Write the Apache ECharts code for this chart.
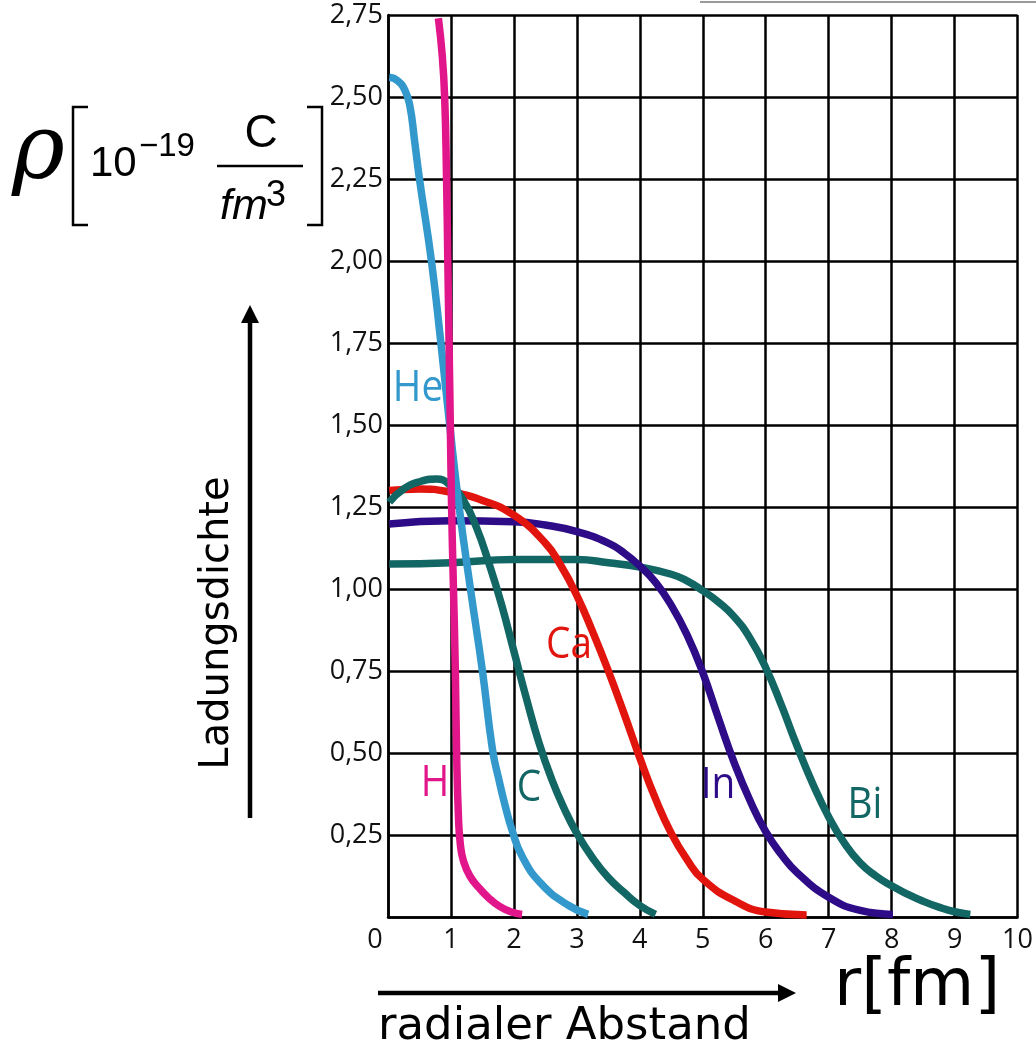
<!DOCTYPE html>
<html lang="de">
<head>
<meta charset="UTF-8">
<title>Ladungsdichte</title>
<script src="https://cdn.jsdelivr.net/npm/echarts@6/dist/echarts.min.js"></script>
<style>
    html, body { margin: 0; padding: 0; background: #ffffff; }
    #densityChart { width: 1036px; height: 1049px; }
</style>
</head>
<body>
<div id="densityChart"></div>
<script>
// 数据：r [fm] 与电荷密度 rho [10^-19 C/fm^3]
const hRadius = [0.80, 0.86, 0.90, 0.93, 0.95, 0.97, 0.99, 1.01, 1.04, 1.07, 1.09, 1.12, 1.15, 1.20, 1.30, 1.45, 1.60, 1.76, 1.95, 2.13];
const hDensity = [2.74, 2.63, 2.50, 2.25, 2.00, 1.75, 1.50, 1.25, 1.00, 0.75, 0.50, 0.30, 0.22, 0.17, 0.125, 0.088, 0.058, 0.034, 0.016, 0.008];

const heRadius = [0.02, 0.15, 0.27, 0.35, 0.42, 0.50, 0.69, 0.84, 0.98, 1.13, 1.31, 1.50, 1.66, 1.76, 1.86, 1.97, 2.13, 2.44, 2.87, 3.18];
const heDensity = [2.56, 2.55, 2.52, 2.47, 2.37, 2.25, 2.00, 1.75, 1.50, 1.25, 1.00, 0.75, 0.51, 0.42, 0.34, 0.265, 0.185, 0.10, 0.035, 0.008];

const cRadius = [0.02, 0.25, 0.50, 0.77, 1.00, 1.20, 1.40, 1.60, 1.80, 2.00, 2.20, 2.40, 2.60, 2.80, 3.00, 3.25, 3.50, 3.75, 4.00, 4.25];
const cDensity = [1.265, 1.305, 1.327, 1.335, 1.315, 1.27, 1.19, 1.08, 0.955, 0.81, 0.665, 0.53, 0.42, 0.33, 0.255, 0.18, 0.12, 0.075, 0.035, 0.008];

const caRadius = [0.02, 0.50, 1.00, 1.50, 2.00, 2.50, 2.75, 3.00, 3.25, 3.50, 3.75, 4.00, 4.25, 4.50, 4.75, 5.00, 5.50, 6.00, 6.65];
const caDensity = [1.30, 1.305, 1.295, 1.27, 1.225, 1.14, 1.07, 0.98, 0.87, 0.75, 0.62, 0.485, 0.36, 0.255, 0.175, 0.115, 0.05, 0.015, 0.006];

const inRadius = [0.02, 1.00, 2.00, 2.50, 3.00, 3.50, 3.75, 4.00, 4.25, 4.50, 4.75, 5.00, 5.25, 5.50, 5.75, 6.00, 6.25, 6.50, 7.00, 7.50, 8.02];
const inDensity = [1.198, 1.208, 1.205, 1.195, 1.175, 1.14, 1.11, 1.07, 1.02, 0.95, 0.86, 0.745, 0.605, 0.47, 0.355, 0.26, 0.19, 0.135, 0.06, 0.02, 0.008];

const biRadius = [0.02, 1.00, 2.00, 3.00, 3.50, 4.00, 4.50, 4.75, 5.00, 5.25, 5.50, 5.75, 6.00, 6.25, 6.50, 6.75, 7.00, 7.25, 7.50, 7.75, 8.00, 8.25, 8.50, 8.75, 9.00, 9.25];
const biDensity = [1.076, 1.08, 1.09, 1.09, 1.08, 1.067, 1.045, 1.025, 0.995, 0.96, 0.915, 0.85, 0.76, 0.645, 0.52, 0.405, 0.305, 0.225, 0.165, 0.125, 0.095, 0.07, 0.048, 0.03, 0.016, 0.008];

const curveNames = ['Bi', 'In', 'Ca', 'C', 'He', 'H'];
const xTicks = [0, 1, 2, 3, 4, 5, 6, 7, 8, 9, 10];
const yTicks = [0, 0.25, 0.5, 0.75, 1, 1.25, 1.5, 1.75, 2, 2.25, 2.5, 2.75];

const TICK_FONT = '"Open Sans", "DejaVu Sans", sans-serif';
const HAND_FONT = '"DejaVu Sans", sans-serif';

document.addEventListener('DOMContentLoaded', function () {
    initializeChart();
});

// 初始化图表
function initializeChart() {
    const chartDom = document.getElementById('densityChart');
    if (!chartDom) {
        console.error('Error: Unable to find chart container.');
        return;
    }
    const densityChart = echarts.init(chartDom, null, { renderer: 'canvas' });
    densityChart.setOption(getChartOptions());
    window.densityChart = densityChart;
}

// 组合曲线数据
function buildSeries() {
    const curves = {
        H: { r: hRadius, rho: hDensity, color: '#e2168b' },
        He: { r: heRadius, rho: heDensity, color: '#3399cc' },
        C: { r: cRadius, rho: cDensity, color: '#126664' },
        Ca: { r: caRadius, rho: caDensity, color: '#e2140e' },
        In: { r: inRadius, rho: inDensity, color: '#2f0c87' },
        Bi: { r: biRadius, rho: biDensity, color: '#126664' }
    };
    return curveNames.map(function (name, idx) {
        const c = curves[name];
        return {
            name: name,
            type: 'line',
            data: c.r.map(function (r, i) { return [r, c.rho[i]]; }),
            smooth: 0.5,
            showSymbol: false,
            symbol: 'none',
            silent: true,
            clip: false,
            z: 3 + idx,
            lineStyle: { color: c.color, width: 7.5 }
        };
    });
}

// 曲线名称标签
function buildCurveLabels() {
    const labels = [
        { text: 'He', x: 418, y: 389, color: '#3399cc' },
        { text: 'H', x: 435, y: 784, color: '#e2168b' },
        { text: 'C', x: 529, y: 789, color: '#126664' },
        { text: 'Ca', x: 569, y: 646, color: '#e2140e' },
        { text: 'In', x: 718, y: 786, color: '#2f0c87' },
        { text: 'Bi', x: 865, y: 806, color: '#126664' }
    ];
    return labels.map(function (l) {
        return {
            type: 'text', x: l.x, y: l.y, z: 20, scaleX: 0.9,
            style: {
                text: l.text, fill: l.color, font: '43px ' + TICK_FONT,
                align: 'center', verticalAlign: 'middle'
            }
        };
    });
}

// 轴标题、箭头和单位
function buildAnnotations() {
    const black = '#000000';
    const arial = '"Liberation Sans", Arial, sans-serif';
    return [
        // 顶部残留线
        { type: 'line', shape: { x1: 700, y1: 2, x2: 1036, y2: 2 }, style: { stroke: '#9a9a9a', lineWidth: 2 } },
        // rho 单位
        { type: 'text', x: 12, y: 154, style: { text: 'ρ', font: 'italic 90px "DejaVu Serif", serif', fill: black, align: 'left', verticalAlign: 'middle' } },
        { type: 'polyline', shape: { points: [[88, 107], [73, 107], [73, 225], [88, 225]] }, style: { stroke: black, lineWidth: 2.5, fill: null } },
        { type: 'polyline', shape: { points: [[307, 107], [322, 107], [322, 225], [307, 225]] }, style: { stroke: black, lineWidth: 2.5, fill: null } },
        { type: 'text', x: 90, y: 164, style: { text: '10', font: '42px ' + arial, fill: black, align: 'left', verticalAlign: 'middle' } },
        { type: 'text', x: 139, y: 147, style: { text: '\u221219', font: '33px ' + arial, fill: black, align: 'left', verticalAlign: 'middle' } },
        { type: 'text', x: 261, y: 134, style: { text: 'C', font: '46px ' + arial, fill: black, align: 'center', verticalAlign: 'middle' } },
        { type: 'line', shape: { x1: 217, y1: 166, x2: 303, y2: 166 }, style: { stroke: black, lineWidth: 2.5 } },
        { type: 'text', x: 220, y: 207, style: { text: 'fm', font: 'italic 43px ' + arial, fill: black, align: 'left', verticalAlign: 'middle' } },
        { type: 'text', x: 266, y: 196, style: { text: '3', font: '36px ' + arial, fill: black, align: 'left', verticalAlign: 'middle' } },
        // 纵向箭头
        { type: 'line', shape: { x1: 250, y1: 818, x2: 250, y2: 318 }, style: { stroke: black, lineWidth: 4.5 } },
        { type: 'polygon', shape: { points: [[241, 323], [259, 323], [250, 305]] }, style: { fill: black } },
        { type: 'text', x: 218, y: 623, rotation: Math.PI / 2, style: { text: 'Ladungsdichte', font: '40px ' + HAND_FONT, fill: black, align: 'center', verticalAlign: 'middle' } },
        // 横向箭头
        { type: 'line', shape: { x1: 378, y1: 993, x2: 782, y2: 993 }, style: { stroke: black, lineWidth: 4.5 } },
        { type: 'polygon', shape: { points: [[778, 984], [778, 1002], [796, 993]] }, style: { fill: black } },
        { type: 'text', x: 378, y: 1027, style: { text: 'radialer Abstand', font: '45px ' + HAND_FONT, fill: black, align: 'left', verticalAlign: 'middle' } },
        { type: 'text', x: 834, y: 988, style: { text: 'r[fm]', font: '66px ' + HAND_FONT, fill: black, align: 'left', verticalAlign: 'middle' } }
    ];
}

// 图表配置
function getChartOptions() {
    const lineStyle = { color: '#000000', width: 2.5 };
    const labelColor = '#111111';
    return {
        animation: false,
        backgroundColor: '#ffffff',
        grid: { left: 388, right: 13, top: 15, bottom: 132, containLabel: false },
        xAxis: {
            type: 'value',
            min: xTicks[0],
            max: xTicks[xTicks.length - 1],
            interval: 1,
            axisLine: { show: true, lineStyle: lineStyle },
            axisTick: { show: false },
            splitLine: { show: true, lineStyle: lineStyle },
            axisLabel: {
                margin: 10,
                color: labelColor,
                fontFamily: TICK_FONT,
                fontSize: 27,
                formatter: function (v) { return v === 0 ? '{z|0}' : String(v); },
                rich: { z: { fontFamily: TICK_FONT, fontSize: 27, color: labelColor, padding: [0, 26, 0, 0] } }
            }
        },
        yAxis: {
            type: 'value',
            min: yTicks[0],
            max: yTicks[yTicks.length - 1],
            interval: 0.25,
            axisLine: { show: true, lineStyle: lineStyle },
            axisTick: { show: false },
            splitLine: { show: true, lineStyle: lineStyle },
            axisLabel: {
                margin: 5,
                color: labelColor,
                fontFamily: TICK_FONT,
                fontSize: 27,
                formatter: function (v) { return v === 0 ? '' : v.toFixed(2).replace('.', ','); }
            }
        },
        series: buildSeries(),
        graphic: buildAnnotations().concat(buildCurveLabels())
    };
}
</script>
</body>
</html>
